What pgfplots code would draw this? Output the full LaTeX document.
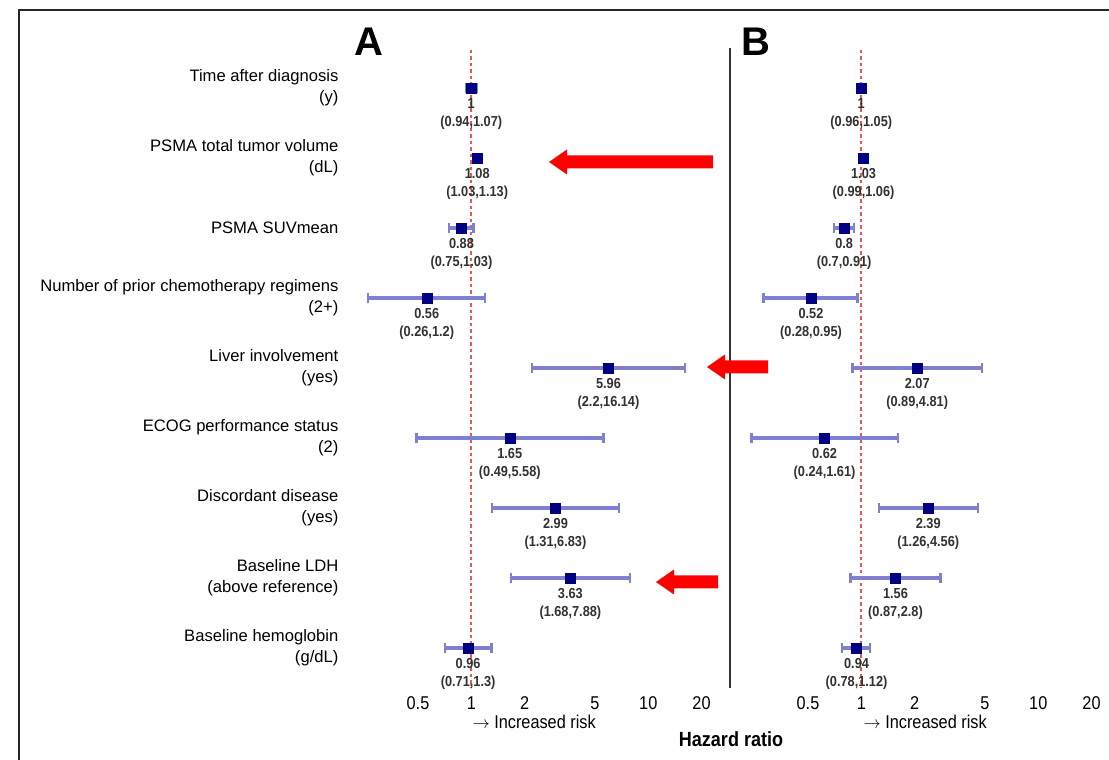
\documentclass[border=0pt]{standalone}
\usepackage{pgfplots}
\pgfplotsset{compat=1.18}
\usepackage{pgfplotstable}
\usepackage{fontspec}
\setmainfont{Liberation Sans}
\newfontfamily\narrowfont[FakeStretch=0.88]{Liberation Sans}

\definecolor{hrnavy}{RGB}{0,0,130}
\definecolor{cibar}{RGB}{128,128,208}
\definecolor{refred}{RGB}{232,85,95}
\definecolor{labgray}{RGB}{50,50,50}

% A: overall survival model, B: second model
\pgfplotstableread{
row hr lo hi ci
1 1 0.94 1.07 (0.94,1.07)
2 1.08 1.03 1.13 (1.03,1.13)
3 0.88 0.75 1.03 (0.75,1.03)
4 0.56 0.26 1.2 (0.26,1.2)
5 5.96 2.2 16.14 (2.2,16.14)
6 1.65 0.49 5.58 (0.49,5.58)
7 2.99 1.31 6.83 (1.31,6.83)
8 3.63 1.68 7.88 (1.68,7.88)
9 0.96 0.71 1.3 (0.71,1.3)
}\tableA

\pgfplotstableread{
row hr lo hi ci
1 1 0.96 1.05 (0.96,1.05)
2 1.03 0.99 1.06 (0.99,1.06)
3 0.8 0.7 0.91 (0.7,0.91)
4 0.52 0.28 0.95 (0.28,0.95)
5 2.07 0.89 4.81 (0.89,4.81)
6 0.62 0.24 1.61 (0.24,1.61)
7 2.39 1.26 4.56 (1.26,4.56)
8 1.56 0.87 2.8 (0.87,2.8)
9 0.94 0.78 1.12 (0.78,1.12)
}\tableB

\newcommand{\labfont}{\narrowfont\bfseries\fontsize{14.5}{14.5}\selectfont}
\newcommand{\tickfont}{\narrowfont\fontsize{18.5}{18.5}\selectfont}

\newcommand{\forestplots}[1]{%
  \addplot[draw=refred, line width=1.8pt, dash pattern=on 3.5pt off 3pt] coordinates {(1,0.45) (1,9.57)};
  \addplot[only marks, mark=square*, mark size=5pt, mark options={draw=hrnavy, fill=hrnavy},
    error bars/.cd, x dir=both, x explicit, error mark=|,
    error bar style={draw=cibar, line width=3.2pt},
    error mark options={draw=cibar, line width=2.4pt, mark size=5pt}]
    table[x=hr, y=row, x error plus expr=\thisrow{hi}-\thisrow{hr},
      x error minus expr=\thisrow{hr}-\thisrow{lo}] {#1};
  \addplot[draw=none, mark=none, point meta=explicit symbolic, nodes near coords,
    nodes near coords style={anchor=center, yshift=-16pt, font=\labfont, text=labgray}]
    table[x=hr, y=row, meta=hr] {#1};
  \addplot[draw=none, mark=none, point meta=explicit symbolic, nodes near coords,
    nodes near coords style={anchor=center, yshift=-35pt, font=\labfont, text=labgray}]
    table[x=hr, y=row, meta=ci] {#1};
}

\newcommand{\redarrow}[3]{% tip x, y, tail x
  \fill[red] (#1pt,#2pt) -- ++(18pt,12.5pt) -- ++(0pt,-6pt) -- (#3pt,#2pt+6.5pt)
    -- (#3pt,#2pt-6.5pt) -- (#1pt+18pt,#2pt-6.5pt) -- ++(0pt,-6pt) -- cycle;}

\begin{document}
\begin{tikzpicture}
\begin{axis}[at={(354.9pt,66.5pt)}, anchor=south west,
  scale only axis, width=372.5pt, height=651pt,
  xmode=log, xmin=0.22, xmax=28,
  ymin=0.35, ymax=9.65, y dir=reverse,
  axis line style={draw=none}, tick style={draw=none},
  xtick={0.5,1,2,5,10,20}, xticklabels={0.5,1,2,5,10,20},
  xticklabel style={font=\tickfont, text=black},
  clip=false,
  ytick={1,...,9},
  yticklabels={{Time after diagnosis\\(y)}, {PSMA total tumor volume\\(dL)},
    {PSMA SUVmean}, {Number of prior chemotherapy regimens\\(2+)},
    {Liver involvement\\(yes)}, {ECOG performance status\\(2)},
    {Discordant disease\\(yes)}, {Baseline LDH\\(above reference)},
    {Baseline hemoglobin\\(g/dL)}},
  yticklabel style={align=right, font=\fontsize{16.6}{21}\selectfont, text=black, xshift=-13pt}]
\forestplots{\tableA}
\end{axis}
\begin{axis}[at={(744.9pt,66.5pt)}, anchor=south west,
  scale only axis, width=372.5pt, height=651pt,
  xmode=log, xmin=0.22, xmax=28,
  ymin=0.35, ymax=9.65, y dir=reverse,
  axis line style={draw=none}, tick style={draw=none},
  xtick={0.5,1,2,5,10,20}, xticklabels={0.5,1,2,5,10,20},
  xticklabel style={font=\tickfont, text=black},
  clip=false, ytick=\empty]
\forestplots{\tableB}
\end{axis}

% frame, separator and panel letters
\draw[line width=2pt, black!85] (19pt,-5pt) -- (19pt,750pt) -- (1120pt,750pt);
\draw[line width=1.6pt, black!80] (730pt,712pt) -- (730pt,72pt);
\node[font=\bfseries\fontsize{40}{40}\selectfont] at (369pt,718pt) {A};
\node[font=\bfseries\fontsize{40}{40}\selectfont] at (756pt,718pt) {B};
\node[anchor=west, font=\tickfont] at (469pt,38pt) {$\rightarrow$\ Increased risk};
\node[anchor=west, font=\tickfont] at (860pt,38pt) {$\rightarrow$\ Increased risk};
\node[font=\narrowfont\bfseries\fontsize{20.5}{20.5}\selectfont] at (731pt,21pt) {Hazard ratio};

\redarrow{549}{598}{713}
\redarrow{707}{393}{768}
\redarrow{656}{178}{718}

\pgfresetboundingbox
\path[use as bounding box] (0pt,0pt) rectangle (1109pt,760pt);
\end{tikzpicture}
\end{document}
